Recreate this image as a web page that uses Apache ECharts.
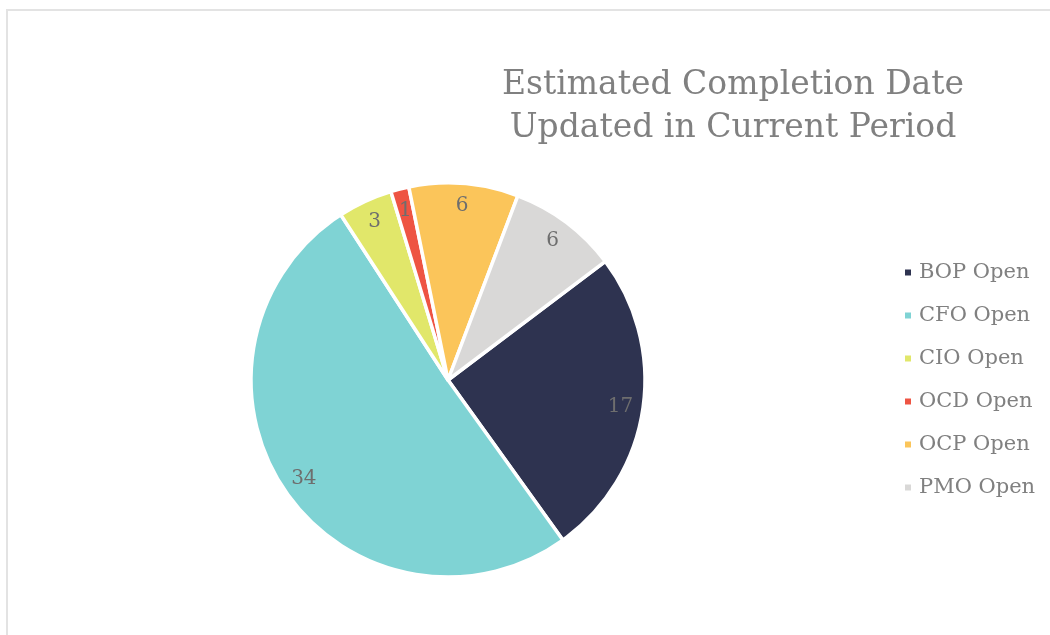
<!DOCTYPE html>
<html>
<head>
<meta charset="utf-8">
<script src="https://cdn.jsdelivr.net/npm/echarts@6/dist/echarts.min.js"></script>
<style>
  html, body { margin: 0; padding: 0; background: #fff; }
  #chart { position: absolute; left: 0; top: 0; width: 1050px; height: 635px; }
  .frame { position: absolute; left: 6px; top: 9px; width: 1060px; height: 640px;
    border-left: 2px solid #e3e3e3; border-top: 2px solid #e3e3e3; pointer-events: none; }
</style>
</head>
<body>
<div id="chart"></div>
<div class="frame"></div>
<script>
const names = ['BOP Open', 'CFO Open', 'CIO Open', 'OCD Open', 'OCP Open', 'PMO Open']
const values = [17, 34, 3, 1, 6, 6]
const colors = ['#2e3350', '#7fd3d4', '#e1e76a', '#ee5443', '#fbc55a', '#d9d8d7']

const serif = '"DejaVu Serif", Georgia, serif'
const chart = echarts.init(document.getElementById('chart'))

const pieData = names.map((n, i) => ({ name: n, value: values[i] }))

chart.setOption({
  animation: false,
  color: colors,
  title: {
    text: 'Estimated Completion Date\nUpdated in Current Period',
    left: 728,
    top: 59,
    textAlign: 'center',
    textStyle: {
      fontFamily: serif,
      fontWeight: 'normal',
      fontSize: 33,
      lineHeight: 43,
      color: '#808080'
    }
  },
  legend: {
    orient: 'vertical',
    left: 898,
    top: 257,
    icon: 'rect',
    itemWidth: 8,
    itemHeight: 8,
    itemGap: 22,
    selectedMode: false,
    textStyle: {
      fontFamily: serif,
      fontSize: 21,
      lineHeight: 21,
      color: '#808080',
      padding: [0, 0, 0, 2]
    }
  },
  series: [
    {
      type: 'pie',
      center: [448, 380],
      radius: [0, 197],
      startAngle: 37,
      clockwise: true,
      silent: true,
      label: { show: false },
      labelLine: { show: false },
      itemStyle: { borderColor: '#fff', borderWidth: 3.5 },
      data: pieData
    },
    {
      // label-only ring so the numbers sit near the rim
      type: 'pie',
      center: [448, 380],
      radius: [146, 197],
      startAngle: 37,
      clockwise: true,
      silent: true,
      itemStyle: { color: 'rgba(0,0,0,0)' },
      label: {
        show: true,
        position: 'inside',
        formatter: '{c}',
        fontFamily: serif,
        fontSize: 20,
        color: '#6e6e6e'
      },
      labelLine: { show: false },
      data: pieData
    }
  ]
})
</script>
</body>
</html>
